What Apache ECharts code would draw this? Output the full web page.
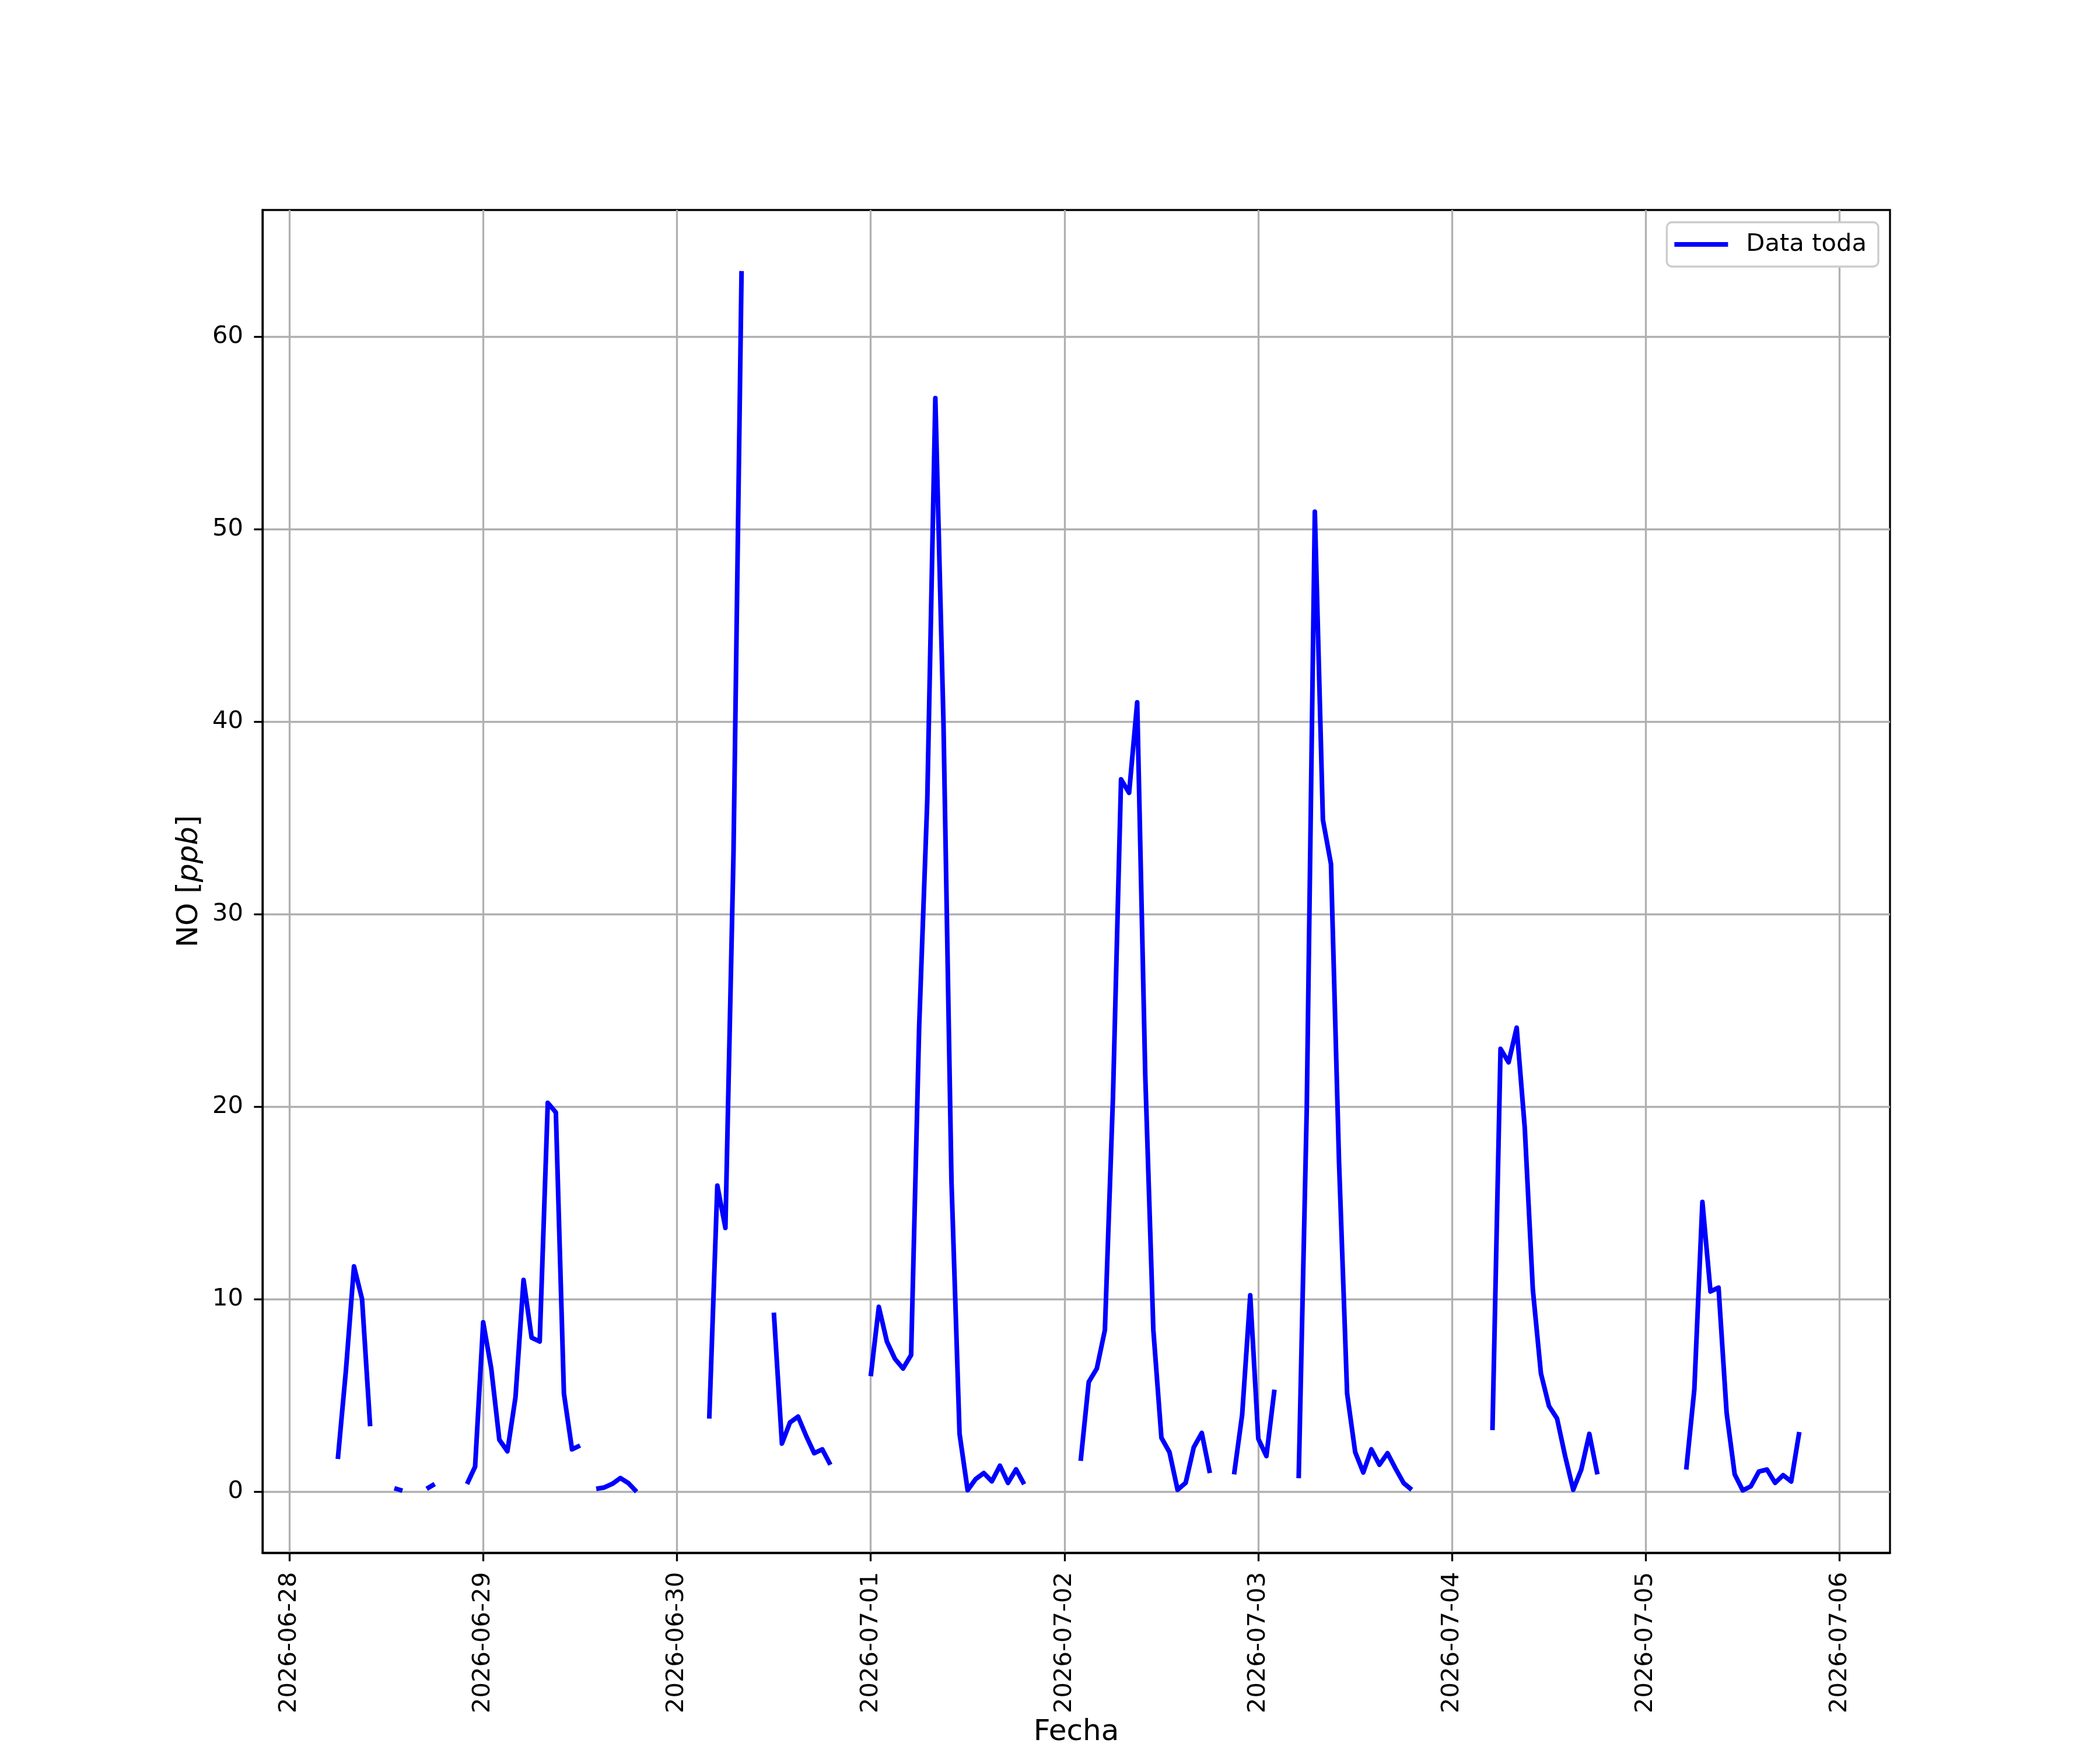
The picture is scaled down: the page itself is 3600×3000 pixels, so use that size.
<!DOCTYPE html>
<html>
<head>
<meta charset="utf-8">
<script src="https://cdn.jsdelivr.net/npm/echarts@6/dist/echarts.min.js"></script>
<style>
  html, body { margin: 0; padding: 0; background: #ffffff; }
  #chart { width: 3600px; height: 3000px; }
</style>
</head>
<body>
<div id="chart"></div>
<script>
// ---- Data (hourly NO concentration, ppb; null = no data) ----
const dayLabels = ['2026-06-28', '2026-06-29', '2026-06-30', '2026-07-01', '2026-07-02',
                   '2026-07-03', '2026-07-04', '2026-07-05', '2026-07-06'];
const yTickValues = [0, 10, 20, 30, 40, 50, 60];
const seriesName = 'Data toda';

//                0     1     2     3     4     5     6     7     8     9     10    11    12    13    14    15    16    17    18    19    20    21    22    23
const jun28 = [null, null, null, null, null, null, 1.7,  6.3,  11.7, 10.0, 3.4,  null, null, 0.18, 0.05, null, null, 0.15, 0.4,  null, null, null, 0.4,  1.3];
const jun29 = [8.8,  6.4,  2.7,  2.1,  4.9,  11.0, 8.0,  7.8,  20.2, 19.7, 5.1,  2.2,  2.4,  null, 0.15, 0.22, 0.41, 0.71, 0.44, 0.0,  null, null, null, null];
const jun30 = [null, null, null, null, 3.8,  15.9, 13.7, 33.1, 63.4, null, null, null, 9.3,  2.5,  3.6,  3.9,  2.9,  2.0,  2.2,  1.4,  null, null, null, null];
const jul01 = [6.0,  9.6,  7.8,  6.9,  6.4,  7.1,  24.2, 35.9, 56.8, 40.1, 16.1, 3.0,  0.08, 0.66, 0.97, 0.54, 1.35, 0.46, 1.16, 0.39, null, null, null, null];
const jul02 = [null, null, 1.6,  5.7,  6.4,  8.4,  20.5, 37.0, 36.3, 41.0, 21.6, 8.4,  2.8,  2.05, 0.1,  0.46, 2.3,  3.05, 0.97, null, null, 0.9,  4.0,  10.2];
const jul03 = [2.75, 1.85, 5.3,  null, null, 0.7,  19.9, 50.9, 34.9, 32.6, 17.1, 5.1,  2.05, 1.0,  2.2,  1.4,  2.0,  1.2,  0.45, 0.1,  null, null, null, null];
const jul04 = [null, null, null, null, null, 3.2,  23.0, 22.3, 24.1, 18.9, 10.5, 6.15, 4.45, 3.8,  1.85, 0.1,  1.15, 3.0,  0.9,  null, null, null, null, null];
const jul05 = [null, null, null, null, null, 1.15, 5.3,  15.05,10.4, 10.6, 4.1,  0.9,  0.07, 0.28, 1.05, 1.15, 0.46, 0.86, 0.53, 3.1,  null, null, null, null];

const days = [jun28, jun29, jun30, jul01, jul02, jul03, jul04, jul05];

// x = days since 2026-06-28 00:00
const lineData = [];
days.forEach((arr, d) => {
  arr.forEach((v, h) => { lineData.push([d + h / 24, v]); });
});
const dayTickValues = dayLabels.map((_, i) => i);

const FONT = 'DejaVu Sans';
const chart = echarts.init(document.getElementById('chart'), null, { renderer: 'canvas', width: 3600, height: 3000 });

chart.setOption({
  backgroundColor: '#ffffff',
  animation: false,
  grid: {
    left: 450, right: 360, top: 360, bottom: 330,
    show: true, borderColor: '#000000', borderWidth: 3.3, backgroundColor: 'transparent'
  },
  legend: {
    show: true,
    data: [{ name: seriesName, icon: 'rect' }],
    right: 380, top: 381,
    orient: 'vertical',
    itemWidth: 92, itemHeight: 8,
    padding: [17, 20, 17, 13],
    backgroundColor: '#ffffff',
    borderColor: '#cccccc', borderWidth: 3.3, borderRadius: 9,
    textStyle: { fontFamily: FONT, fontSize: 41.7, color: '#000000', padding: [0, 0, 0, 26] }
  },
  xAxis: {
    type: 'value',
    min: -0.1388, max: 8.2598,
    splitNumber: 8,
    name: 'Fecha',
    nameLocation: 'middle',
    nameGap: 283,
    nameTextStyle: { fontFamily: FONT, fontSize: 50, color: '#000000' },
    axisLine: { show: true, onZero: false, lineStyle: { color: '#000000', width: 3.3 } },
    axisTick: { show: true, inside: false, length: 14.6, customValues: dayTickValues, lineStyle: { color: '#000000', width: 3.3 } },
    axisLabel: {
      show: true, rotate: 90, margin: 33,
      customValues: dayTickValues,
      fontFamily: FONT, fontSize: 41.7, color: '#000000',
      formatter: v => dayLabels[Math.round(v)] || ''
    },
    splitLine: { show: true, customValues: dayTickValues, lineStyle: { color: '#b0b0b0', width: 3.3 } }
  },
  yAxis: {
    type: 'value',
    min: -3.17, max: 66.57,
    splitNumber: 7,
    name: 'NO [{i|ppb}]',
    nameLocation: 'middle',
    nameRotate: 90,
    nameGap: 100,
    nameTextStyle: {
      fontFamily: FONT, fontSize: 50, color: '#000000',
      rich: { i: { fontFamily: FONT, fontSize: 50, fontStyle: 'italic', color: '#000000' } }
    },
    axisLine: { show: true, onZero: false, lineStyle: { color: '#000000', width: 3.3 } },
    axisTick: { show: true, inside: false, length: 14.6, customValues: yTickValues, lineStyle: { color: '#000000', width: 3.3 } },
    axisLabel: {
      show: true, margin: 33,
      customValues: yTickValues,
      fontFamily: FONT, fontSize: 41.7, color: '#000000'
    },
    splitLine: { show: true, customValues: yTickValues, lineStyle: { color: '#b0b0b0', width: 3.3 } }
  },
  series: [{
    name: seriesName,
    type: 'line',
    data: lineData,
    connectNulls: false,
    showSymbol: false,
    symbol: 'none',
    lineStyle: { color: '#0000ff', width: 8, cap: 'butt', join: 'round' },
    itemStyle: { color: '#0000ff' },
    z: 3
  }]
});
</script>
</body>
</html>
